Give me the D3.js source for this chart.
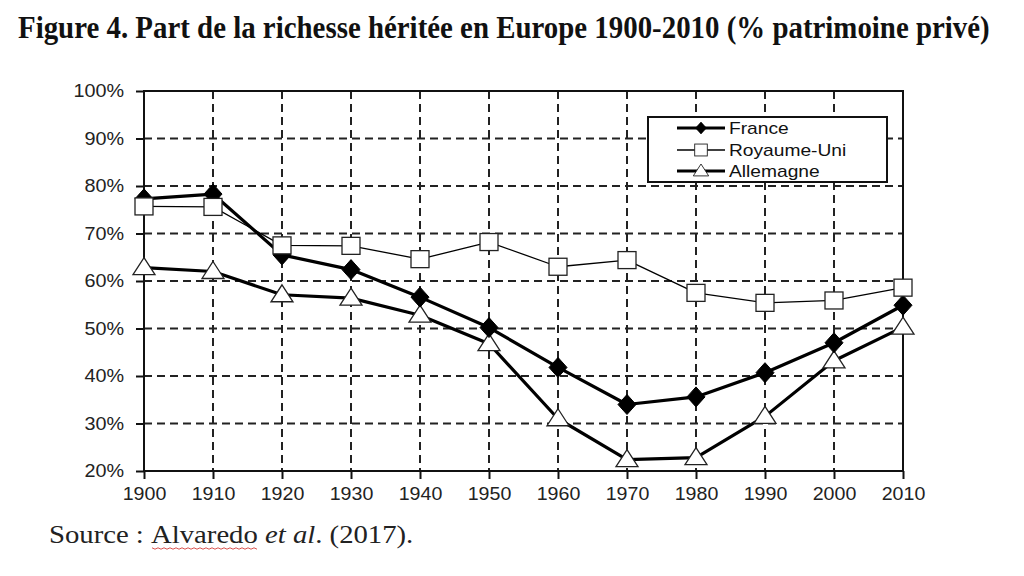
<!DOCTYPE html>
<html>
<head>
<meta charset="utf-8">
<script src="https://cdn.jsdelivr.net/npm/d3@7"></script>
<style>
  body { margin: 0; background: #fff; }
  svg { display: block; }
</style>
</head>
<body>
<svg id="chart" width="1024" height="576"></svg>
<script>
// data
const years = [1900, 1910, 1920, 1930, 1940, 1950, 1960, 1970, 1980, 1990, 2000, 2010];
const france = [77.3, 78.3, 65.5, 62.4, 56.6, 50.2, 41.8, 34, 35.6, 40.7, 47, 54.9];
const royaumeUni = [75.7, 75.6, 67.5, 67.4, 64.6, 68.2, 63, 64.4, 57.5, 55.4, 55.9, 58.6];
const allemagne = [62.8, 62, 57.1, 56.4, 52.8, 46.8, 31, 22.4, 22.8, 31.5, 43.2, 50.3];
const yTicks = [20, 30, 40, 50, 60, 70, 80, 90, 100];

const svg = d3.select("#chart");

const x = d3.scaleLinear().domain([1900, 2010]).range([144, 903]);
const y = d3.scaleLinear().domain([20, 100]).range([471, 91]);

// stretch text horizontally to reach a given width
function fitWidth(sel, w) {
  sel.each(function() {
    const bw = this.getBBox().width;
    const ax = +this.getAttribute("x"), ay = +this.getAttribute("y");
    const s = w / bw;
    d3.select(this).attr("transform",
      `translate(${ax},${ay}) scale(${s},1) translate(${-ax},${-ay})`);
  });
}

// title
svg.append("text")
  .attr("x", 18).attr("y", 38)
  .style("font-family", "'Liberation Serif', 'Times New Roman', serif")
  .style("font-weight", "bold")
  .style("font-size", "31px")
  .attr("fill", "#111")
  .text("Figure 4. Part de la richesse héritée en Europe 1900-2010 (% patrimoine privé)")
  .call(fitWidth, 972);

// grid
const grid = svg.append("g")
  .attr("stroke", "#222")
  .attr("stroke-width", 2)
  .attr("stroke-dasharray", "8,5");

grid.selectAll(".gx")
  .data(years.slice(1, -1))
  .join("line")
  .attr("x1", d => x(d)).attr("x2", d => x(d))
  .attr("y1", y(100)).attr("y2", y(20));

grid.selectAll(".gy")
  .data(yTicks.slice(1, -1))
  .join("line")
  .attr("class", "gy")
  .attr("x1", x(1900)).attr("x2", x(2010))
  .attr("y1", d => y(d)).attr("y2", d => y(d));

// frame
svg.append("rect")
  .attr("x", x(1900)).attr("y", y(100))
  .attr("width", x(2010) - x(1900))
  .attr("height", y(20) - y(100))
  .attr("fill", "none")
  .attr("stroke", "#111")
  .attr("stroke-width", 2);

// axes
const yAxis = svg.append("g")
  .attr("transform", `translate(${x(1900)},0)`)
  .call(d3.axisLeft(y).tickValues(yTicks).tickSize(8).tickPadding(12).tickFormat(d => d + "%"));
const xAxis = svg.append("g")
  .attr("transform", `translate(0,${y(20)})`)
  .call(d3.axisBottom(x).tickValues(years).tickSize(8).tickFormat(d3.format("d")));

[yAxis, xAxis].forEach(a => {
  a.select(".domain").remove();
  a.selectAll(".tick line").attr("stroke", "#111").attr("stroke-width", 2);
  a.selectAll(".tick text")
    .style("font-family", "'Liberation Sans', Arial, sans-serif")
    .style("font-size", "18px")
    .attr("fill", "#222");
});
yAxis.selectAll(".tick text")
  .attr("transform", "translate(-20,0) scale(1.1,1) translate(20,0)");
xAxis.selectAll(".tick text")
  .attr("y", 29).attr("dy", 0)
  .attr("transform", "scale(1.09,1)");

// series
const series = [
  { name: "Allemagne", values: allemagne, width: 3.2, shape: "tri" },
  { name: "France", values: france, width: 3.2, shape: "dia" },
  { name: "Royaume-Uni", values: royaumeUni, width: 1.3, shape: "sq" }
];

const line = d3.line().x(d => x(d[0])).y(d => y(d[1]));

function marker(g, shape) {
  if (shape === "dia") {
    g.append("path").attr("d", "M0,-10L9,0L0,10L-9,0Z")
      .attr("fill", "#000").attr("stroke", "#000").attr("stroke-width", 1);
  } else if (shape === "sq") {
    g.append("rect").attr("x", -9).attr("y", -8.5).attr("width", 18).attr("height", 17)
      .attr("fill", "#fff").attr("stroke", "#222").attr("stroke-width", 1.3);
  } else {
    g.append("path").attr("d", "M0,-10L11,7L-11,7Z")
      .attr("fill", "#fff").attr("stroke", "#222").attr("stroke-width", 1.3);
  }
}

series.forEach(s => {
  const pts = years.map((yr, i) => [yr, s.values[i]]);
  svg.append("path")
    .datum(pts)
    .attr("d", line)
    .attr("fill", "none")
    .attr("stroke", "#000")
    .attr("stroke-width", s.width)
    .attr("stroke-linejoin", "round");
  svg.append("g").selectAll("g")
    .data(pts)
    .join("g")
    .attr("transform", d => `translate(${x(d[0])},${y(d[1])})`)
    .each(function() { marker(d3.select(this), s.shape); });
});

// legend
const legend = svg.append("g");
legend.append("rect")
  .attr("x", 648).attr("y", 117).attr("width", 239).attr("height", 65)
  .attr("fill", "#fff").attr("stroke", "#111").attr("stroke-width", 2);

const legendItems = [
  { name: "France", width: 3.2, shape: "dia", yy: 128, size: 0.6 },
  { name: "Royaume-Uni", width: 1.3, shape: "sq", yy: 150, size: 0.7 },
  { name: "Allemagne", width: 3.2, shape: "tri", yy: 171, size: 0.7 }
];
legendItems.forEach(it => {
  legend.append("line")
    .attr("x1", 677).attr("x2", 725)
    .attr("y1", it.yy).attr("y2", it.yy)
    .attr("stroke", "#000").attr("stroke-width", it.width);
  const g = legend.append("g").attr("transform", `translate(701,${it.yy}) scale(${it.size})`);
  marker(g, it.shape);
  legend.append("text")
    .attr("x", 729).attr("y", it.yy).attr("dy", "0.35em")
    .style("font-family", "'Liberation Sans', Arial, sans-serif")
    .style("font-size", "16px")
    .attr("fill", "#111")
    .text(it.name)
    .attr("transform", "translate(729,0) scale(1.2,1) translate(-729,0)");
});

// source
const src = svg.append("text")
  .attr("x", 49).attr("y", 543)
  .style("font-family", "'Liberation Serif', 'Times New Roman', serif")
  .style("font-size", "25px")
  .attr("fill", "#222");
src.append("tspan").text("Source : ");
src.append("tspan").text("Alvaredo");
src.append("tspan").text(" ");
src.append("tspan").style("font-style", "italic").text("et al");
src.append("tspan").text(". (2017).");
src.call(fitWidth, 363);

// spell-check squiggle under the author name
const sq = d3.range(152, 259, 3).map((px, i) => [px, 548 + (i % 2 ? 1.2 : -0.2)]);
svg.append("path")
  .attr("d", d3.line()(sq))
  .attr("fill", "none")
  .attr("stroke", "#d9534f")
  .attr("stroke-width", 1);
</script>
</body>
</html>
